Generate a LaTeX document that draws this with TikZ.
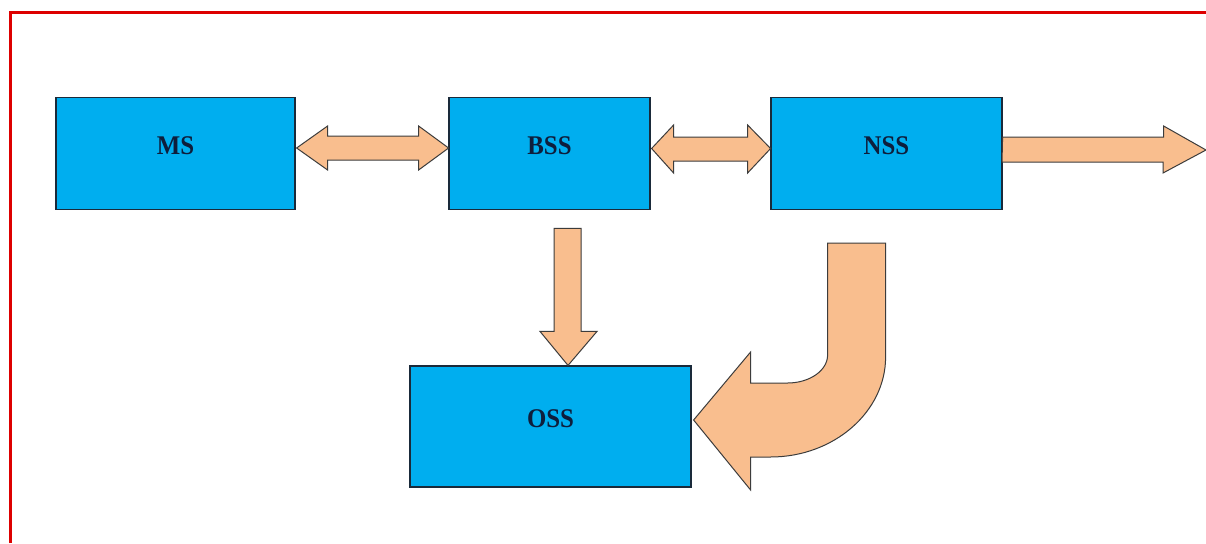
\documentclass[tikz,border=0pt]{standalone}
\usepackage{fontspec}
\setmainfont{Liberation Serif}
\usetikzlibrary{calc}
\definecolor{boxblue}{HTML}{00AEEF}
\definecolor{boxline}{HTML}{1A2A3A}
\definecolor{peach}{HTML}{F9BE8E}
\definecolor{arrowline}{HTML}{3C3C3C}
\definecolor{frame}{HTML}{DD0000}
\definecolor{labelink}{HTML}{0E1E3C}
\newcommand{\blocktext}[1]{\scalebox{0.92}[1]{#1}}
\tikzset{
  block/.style={draw=boxline, line width=1.2pt, fill=boxblue, inner sep=0pt},
  blocklabel/.style={font=\fontsize{27}{30}\selectfont\bfseries, text=labelink, yshift=8pt},
  bigarrow/.style={draw=arrowline, line width=1pt, fill=peach, line join=miter}
}
\begin{document}
\begin{tikzpicture}[x=1pt, y=-1pt]
  \useasboundingbox (0,0) rectangle (1206,543);
  \fill[white] (0,0) rectangle (1206,543);
  % red frame on the top and left edges
  \draw[frame, line width=3pt] (10,543) -- (10,13) -- (1206,13);

  % subsystem blocks
  \node[block, minimum width=239pt, minimum height=112pt,
        label={[blocklabel]center:\blocktext{MS}}] (ms) at (175.5,153.5) {};
  \node[block, minimum width=201pt, minimum height=112pt,
        label={[blocklabel]center:\blocktext{BSS}}] (bss) at (549.5,153.5) {};
  \node[block, minimum width=231pt, minimum height=112pt,
        label={[blocklabel]center:\blocktext{NSS}}] (nss) at (886.5,153.5) {};
  \node[block, minimum width=281pt, minimum height=121pt,
        label={[blocklabel]center:\blocktext{OSS}}] (oss) at (550.5,426.5) {};

  % MS <-> BSS
  \draw[bigarrow] ([shift={(1,-5.5)}]ms.east)
    -- ++(31,-22) -- ++(0,10) -- ++(91,0) -- ++(0,-10) -- ++(30,22)
    -- ++(-30,22) -- ++(0,-10) -- ++(-91,0) -- ++(0,10) -- cycle;

  % BSS <-> NSS
  \draw[bigarrow] ([shift={(1,-5)}]bss.east)
    -- ++(22,-23.5) -- ++(0,12) -- ++(74,0) -- ++(0,-12) -- ++(23,23.5)
    -- ++(-23,24.5) -- ++(0,-12) -- ++(-74,0) -- ++(0,12) -- cycle;

  % NSS -> outside
  \coordinate (out) at (1206,150);
  \draw[bigarrow] ([shift={(0,-16.5)}]nss.east)
    -- ++(161,0) -- ++(0,-11) -- (out) -- ++(-43,23) -- ++(0,-11)
    -- ++(-161,0) -- cycle;

  % BSS -> OSS
  \draw[bigarrow] ([xshift=17.5]oss.north)
    -- ++(-28,-34) -- ++(14,0) -- ++(0,-103) -- ++(27,0) -- ++(0,103)
    -- ++(16,0) -- cycle;

  % NSS -> OSS, bent arrow
  \draw[bigarrow] ([shift={(2,-6.5)}]oss.east)
    -- ++(57,-68) -- ++(0,31)
    -- ++(37,0) .. controls ++(22,0) and ++(0,15.5) .. ++(40,-28)
    -- ++(0,-112) -- ++(58,0) -- ++(0,114)
    .. controls ++(0,55) and ++(63,0) .. ++(-115,100)
    -- ++(-20,0) -- ++(0,33) -- cycle;
\end{tikzpicture}
\end{document}
